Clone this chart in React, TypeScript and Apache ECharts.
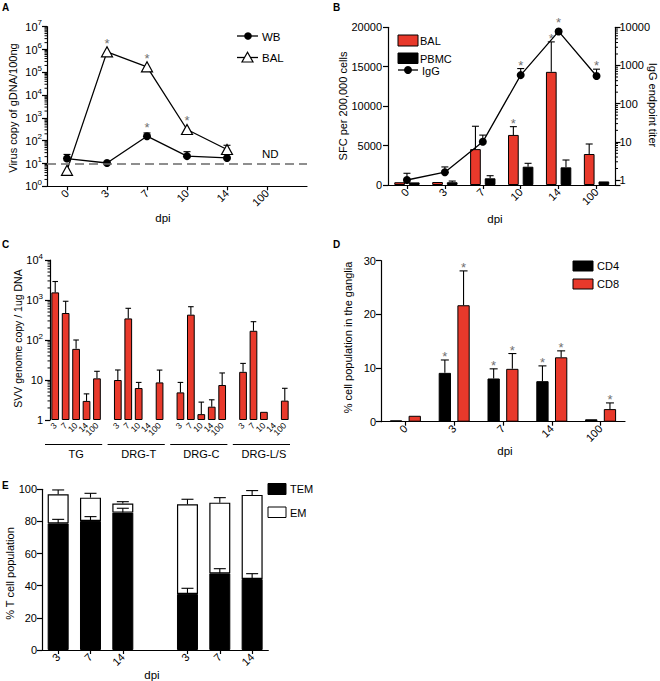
import React, { useEffect, useRef } from 'react';
import * as echarts from 'echarts';

const FONT = "'Liberation Sans', Arial, Helvetica, sans-serif";
const RED = '#E8392B';
const STAR_COLOR = '#707070';

// ---------- Panel A ----------
const dpiA = ['0', '3', '7', '10', '14', '100'];
const wbCopies = [16.5, 10.5, 158, 21, 17.5, null];
const wbErrTop = [25, null, 219, 33, null, null];
const wbSig = [0, 0, 1, 0, 0, 0];
const balCopies = [5, 790000, 174000, 310, 41, null];
const balErrTop = [null, null, null, null, 63, null];
const balSig = [0, 1, 1, 1, 0, 0];
const ndLevel = 10;

// ---------- Panel B ----------
const dpiB = ['0', '3', '7', '10', '14', '100'];
const sfcBal = [350, 380, 4550, 6350, 14350, 3930];
const sfcBalErrTop = [null, null, 7450, 7400, 18150, 5200];
const sfcBalSig = [0, 0, 0, 1, 1, 0];
const sfcPbmc = [330, 350, 850, 2320, 2240, 450];
const sfcPbmcErrTop = [null, 500, 1180, 2750, 3170, null];
const sfcPbmcSig = [0, 0, 0, 0, 0, 0];
const iggTiter = [1.0, 1.6, 10, 560, 7800, 530];
const iggErrTop = [1.5, 2.2, 15, 830, null, 800];
const iggSig = [0, 0, 0, 1, 1, 1];

// ---------- Panel C ----------
const tissuesC = ['TG', 'DRG-T', 'DRG-C', 'DRG-L/S'];
const dpiC = ['3', '7', '10', '14', '100'];
const svvTG = [1550, 473, 60, 3, 11];
const svvTGErrTop = [2900, 930, 100, 4.5, 16.5];
const svvDrgT = [10, 346, 6.3, null, 8.7];
const svvDrgTErrTop = [17.8, 620, 8.7, null, 17.7];
const svvDrgC = [4.9, 430, 1.4, 2.15, 7.5];
const svvDrgCErrTop = [8.7, 680, 2.8, 3.2, 15];
const svvDrgLS = [16, 170, 1.6, null, 3.05];
const svvDrgLSErrTop = [26, 287, null, null, 6.2];

// ---------- Panel D ----------
const dpiD = ['0', '3', '7', '14', '100'];
const cd4Pct = [0.25, 9.1, 8.05, 7.55, 0.45];
const cd4ErrTop = [null, 11.5, 9.85, 10.4, null];
const cd4Sig = [0, 1, 1, 1, 0];
const cd8Pct = [1.1, 21.7, 9.85, 12.0, 2.35];
const cd8ErrTop = [null, 28.1, 12.7, 13.2, 3.5];
const cd8Sig = [0, 1, 1, 1, 1];

// ---------- Panel E ----------
const dpiE = ['3', '7', '14', '', '3', '7', '14'];
const temPct = [78.8, 80.3, 85.5, null, 34.9, 47.7, 44.2];
const temErrTop = [81.3, 83, 88.2, null, 38.4, 50.6, 47.5];
const emPct = [18.1, 14.5, 5.6, null, 55.8, 44.0, 52.3];
const totalErrTop = [99.6, 97.5, 92.3, null, 93.8, 94.8, 99.2];

// ---------- helpers ----------
const BLACK = '#000';
const axisLine = { show: true, lineStyle: { color: BLACK, width: 1.2 } };
const tick = (len = 4) => ({ show: true, length: len, lineStyle: { color: BLACK, width: 1.2 } });
const lbl = { color: BLACK, fontSize: 11, fontFamily: FONT };
const noSplit = { show: false };

function isPow10(v: number) {
  const l = Math.log10(v);
  return Math.abs(l - Math.round(l)) < 1e-6;
}
function supLabelAll(v: number) {
  if (!isPow10(v)) return '';
  return `10{e|${Math.round(Math.log10(v))}}`;
}
function supLabelC(v: number) {
  if (!isPow10(v)) return '';
  const e = Math.round(Math.log10(v));
  if (e === 0) return '1';
  if (e === 1) return '10';
  return `10{e|${e}}`;
}
const supRich = { e: { fontSize: 8, lineHeight: 8, verticalAlign: 'top', fontFamily: FONT, color: BLACK } };

function ln(x1: number, y1: number, x2: number, y2: number, w = 1.1) {
  return { type: 'line', shape: { x1, y1, x2, y2 }, style: { stroke: BLACK, lineWidth: w } };
}

function rows(xs: number[], vals: (number | null)[], errs: (number | null)[], sigs: number[]) {
  return vals.map((v, i) => [xs[i], v == null ? '-' : v, errs[i] == null ? (v == null ? '-' : v) : errs[i], sigs[i] || 0]);
}

function errorSeries(xAxisIndex: number, yAxisIndex: number, data: any[], dx: number, cap: number, gapErr: number, gapVal: number, z = 5) {
  return {
    type: 'custom', xAxisIndex, yAxisIndex, z, silent: true, clip: false,
    data,
    renderItem: (params: any, api: any) => {
      const x = api.value(0), v = api.value(1), e = api.value(2), s = api.value(3);
      if (isNaN(v)) return null;
      const p = api.coord([x, v]);
      const cx = p[0] + dx;
      const children: any[] = [];
      let starY = p[1] - gapVal;
      if (!isNaN(e) && e > v) {
        const q = api.coord([x, e]);
        children.push(ln(cx, p[1], cx, q[1]), ln(cx - cap, q[1], cx + cap, q[1]));
        starY = Math.min(starY, q[1] - gapErr);
      }
      if (s) {
        children.push({ type: 'text', x: cx, y: starY, style: { text: '*', fill: STAR_COLOR, fontSize: 13, fontFamily: FONT, align: 'center', verticalAlign: 'middle' } });
      }
      return { type: 'group', children };
    },
  };
}

function minorTicks(xAxisIndex: number, yAxisIndex: number, side: 'left' | 'right', e0: number, e1: number) {
  const data: any[] = [];
  for (let e = e0; e < e1; e++) for (let m = 2; m <= 9; m++) data.push([0, m * Math.pow(10, e)]);
  return {
    type: 'custom', xAxisIndex, yAxisIndex, z: 6, silent: true, clip: false, data,
    renderItem: (params: any, api: any) => {
      const cs = params.coordSys;
      const y = api.coord([api.value(0), api.value(1)])[1];
      const x0 = side === 'left' ? cs.x : cs.x + cs.width;
      const x1 = side === 'left' ? x0 - 2.5 : x0 + 2.5;
      return ln(x0, y, x1, y, 1);
    },
  };
}

function text(x: number, y: number, t: string, o: any = {}, rotation = 0) {
  const { fontSize = 11, align = 'left', fontWeight = 'normal', fill = BLACK } = o;
  return { type: 'text', x, y, rotation, silent: true, style: { text: t, fontSize, fontFamily: FONT, fill, align, verticalAlign: 'middle', fontWeight } };
}
function rect(x: number, y: number, w: number, h: number, fill: string) {
  return { type: 'rect', shape: { x, y, width: w, height: h }, style: { fill, stroke: BLACK, lineWidth: 1 } };
}

function buildOption() {
  // Panel A slots (half-step category axis)
  const slotLabelA = Array.from({ length: 14 }, (_, i) => (i % 2 === 1 && (i - 1) / 2 < dpiA.length ? dpiA[(i - 1) / 2] : ''));
  const slotNamesA = slotLabelA.map((_, i) => `a${i}`);
  const isDpiSlotA = (i: number) => slotLabelA[i] !== '';
  const xsA = dpiA.map((_, i) => 2 * i + 1);

  // Panel C slots
  const slotLabelC: string[] = [];
  const valsC: (number | null)[] = [];
  const errsC: (number | null)[] = [];
  const groupSpan: number[][] = [];
  const meansC = [svvTG, svvDrgT, svvDrgC, svvDrgLS];
  const errC = [svvTGErrTop, svvDrgTErrTop, svvDrgCErrTop, svvDrgLSErrTop];
  tissuesC.forEach((_, g) => {
    if (g > 0) { slotLabelC.push(''); valsC.push(null); errsC.push(null); }
    const start = slotLabelC.length;
    dpiC.forEach((d, k) => { slotLabelC.push(d); valsC.push(meansC[g][k]); errsC.push(errC[g][k]); });
    groupSpan.push([start, slotLabelC.length - 1]);
  });
  const slotNamesC = slotLabelC.map((_, i) => `c${i}`);
  const xsC = slotLabelC.map((_, i) => i);

  const slotNamesE = dpiE.map((_, i) => `e${i}`);
  const xsE = dpiE.map((_, i) => i);
  const totalE = temPct.map((t, i) => (t == null || emPct[i] == null ? null : +(t + (emPct[i] as number)).toFixed(2)));

  const xsB = dpiB.map((_, i) => i);
  const xsD = dpiD.map((_, i) => i);

  const grids = [
    { left: 47, top: 26.7, width: 260, height: 159.6 },
    { left: 388, top: 27.3, width: 227.5, height: 157.7 },
    { left: 50, top: 260, width: 240, height: 160 },
    { left: 381, top: 260.7, width: 244, height: 161 },
    { left: 42, top: 489.3, width: 226.3, height: 160.7 },
  ].map((g) => ({ ...g, containLabel: false, outerBoundsMode: 'none' }));

  const pad = [7, 0, 0, 0];

  const xAxis: any[] = [
    {
      gridIndex: 0, type: 'category', boundaryGap: false, data: slotNamesA,
      axisLine, axisTick: { ...tick(4), interval: (i: number) => isDpiSlotA(i) },
      axisLabel: { color: BLACK, fontSize: 11, fontFamily: FONT, rotate: 45, margin: 5, padding: pad, interval: (i: number) => isDpiSlotA(i), formatter: (_v: string, i: number) => slotLabelA[i] },
    },
    {
      gridIndex: 1, type: 'category', data: dpiB, axisLine,
      axisTick: { ...tick(4), alignWithLabel: true },
      axisLabel: { color: BLACK, fontSize: 11, fontFamily: FONT, rotate: 45, margin: 5, padding: pad, interval: 0 },
    },
    {
      gridIndex: 2, type: 'category', data: slotNamesC, axisLine: { show: false }, axisTick: { show: false },
      axisLabel: { color: BLACK, fontSize: 8.5, fontFamily: FONT, rotate: 45, margin: 4, interval: 0, formatter: (_v: string, i: number) => slotLabelC[i] },
    },
    {
      gridIndex: 3, type: 'category', data: dpiD, axisLine,
      axisTick: { ...tick(4), alignWithLabel: true },
      axisLabel: { color: BLACK, fontSize: 11, fontFamily: FONT, rotate: 45, margin: 5, padding: pad, interval: 0 },
    },
    {
      gridIndex: 4, type: 'category', data: slotNamesE, axisLine,
      axisTick: { ...tick(4), alignWithLabel: true, interval: (i: number) => dpiE[i] !== '' },
      axisLabel: { color: BLACK, fontSize: 11, fontFamily: FONT, rotate: 45, margin: 5, padding: pad, interval: 0, formatter: (_v: string, i: number) => dpiE[i] },
    },
  ];

  const plain = (v: number) => String(v);

  const yAxis: any[] = [
    {
      gridIndex: 0, type: 'log', logBase: 10, min: 1, max: 1e7, axisLine, axisTick: tick(5), splitLine: noSplit,
      axisLabel: { ...lbl, margin: 5, lineHeight: 16, formatter: supLabelAll, rich: supRich },
    },
    {
      gridIndex: 1, type: 'value', position: 'left', min: 0, max: 20000, interval: 5000, axisLine, axisTick: tick(5), splitLine: noSplit,
      axisLabel: { ...lbl, margin: 6, formatter: plain },
    },
    {
      gridIndex: 1, type: 'log', logBase: 10, position: 'right', min: 0.74, max: 10000, axisLine, axisTick: tick(5), splitLine: noSplit,
      axisLabel: { ...lbl, margin: 4, formatter: (v: number) => (isPow10(v) ? String(Math.round(v)) : '') },
    },
    {
      gridIndex: 2, type: 'log', logBase: 10, min: 1, max: 1e4, axisLine, axisTick: tick(5), splitLine: noSplit,
      axisLabel: { ...lbl, margin: 7, lineHeight: 16, formatter: supLabelC, rich: supRich },
    },
    {
      gridIndex: 3, type: 'value', min: 0, max: 30, interval: 10, axisLine, axisTick: tick(5), splitLine: noSplit,
      axisLabel: { ...lbl, margin: 5, formatter: plain },
    },
    {
      gridIndex: 4, type: 'value', min: 0, max: 100, interval: 20, axisLine, axisTick: tick(5), splitLine: noSplit,
      axisLabel: { ...lbl, margin: 5, formatter: plain },
    },
  ];

  const barBorder = { borderColor: BLACK, borderWidth: 1 };

  const series: any[] = [
    // ----- A -----
    {
      name: 'WB', type: 'line', xAxisIndex: 0, yAxisIndex: 0, z: 4,
      data: wbCopies.map((v, i) => [xsA[i], v]),
      symbol: 'circle', symbolSize: 8, itemStyle: { color: BLACK }, lineStyle: { color: BLACK, width: 1.3 },
      markLine: {
        silent: true, symbol: 'none', label: { show: false },
        lineStyle: { color: '#6a6a6a', type: [9, 5], width: 1.5 },
        data: [{ yAxis: ndLevel }],
      },
    },
    {
      name: 'BAL', type: 'line', xAxisIndex: 0, yAxisIndex: 0, z: 4,
      data: balCopies.map((v, i) => [xsA[i], v]),
      symbol: 'triangle', symbolSize: [11, 10], itemStyle: { color: '#fff', borderColor: BLACK, borderWidth: 1.2 },
      lineStyle: { color: BLACK, width: 1.3 },
    },
    errorSeries(0, 0, rows(xsA, wbCopies, wbErrTop, wbSig), 0, 3.5, 5.3, 8.5, 3),
    errorSeries(0, 0, rows(xsA, balCopies, balErrTop, balSig), 0, 3.5, 5.3, 8.5, 3),
    minorTicks(0, 0, 'left', 0, 7),

    // ----- B -----
    {
      name: 'BAL SFC', type: 'bar', xAxisIndex: 1, yAxisIndex: 1, data: sfcBal, barWidth: 10.7, barGap: '37%',
      itemStyle: { color: RED, ...barBorder }, z: 2,
    },
    {
      name: 'PBMC', type: 'bar', xAxisIndex: 1, yAxisIndex: 1, data: sfcPbmc, barWidth: 10.7, barGap: '37%',
      itemStyle: { color: BLACK, ...barBorder }, z: 2,
    },
    errorSeries(1, 1, rows(xsB, sfcBal, sfcBalErrTop, sfcBalSig), -7.35, 3.5, 3.3, 3.3),
    errorSeries(1, 1, rows(xsB, sfcPbmc, sfcPbmcErrTop, sfcPbmcSig), 7.35, 3.5, 3.3, 3.3),
    {
      name: 'IgG', type: 'line', xAxisIndex: 1, yAxisIndex: 2, data: iggTiter, z: 7,
      symbol: 'circle', symbolSize: 8, itemStyle: { color: BLACK }, lineStyle: { color: BLACK, width: 1.3 },
    },
    errorSeries(1, 2, rows(xsB, iggTiter, iggErrTop, iggSig), 0, 3.5, 3.3, 9.3, 6),
    minorTicks(1, 2, 'right', 0, 4),

    // ----- C -----
    {
      name: 'SVV', type: 'bar', xAxisIndex: 2, yAxisIndex: 3, data: valsC, barWidth: '74%',
      itemStyle: { color: RED, ...barBorder }, z: 2,
    },
    errorSeries(2, 3, rows(xsC, valsC, errsC, xsC.map(() => 0)), 0, 2.8, 3, 3),
    minorTicks(2, 3, 'left', 0, 4),
    {
      type: 'custom', xAxisIndex: 2, yAxisIndex: 3, z: 6, silent: true, clip: false,
      data: groupSpan.map((s, g) => [s[0], 1, s[1], g]),
      renderItem: (params: any, api: any) => {
        const s = api.value(0), e = api.value(2), g = api.value(3);
        const cs = params.coordSys;
        const yb = cs.y + cs.height;
        const c0 = api.coord([s, 1])[0];
        const c1 = api.coord([e, 1])[0];
        const bw = api.coord([s + 1, 1])[0] - c0;
        const xa = c0 - bw / 2 - 5;
        const xb = c1 + bw / 2;
        return {
          type: 'group', children: [
            ln(xa, yb + 24.5, xb, yb + 24.5, 1.1),
            { type: 'text', x: (c0 + c1) / 2, y: yb + 34, style: { text: tissuesC[g], fontSize: 11, fontFamily: FONT, fill: BLACK, align: 'center', verticalAlign: 'middle' } },
          ],
        };
      },
    },

    // ----- D -----
    {
      name: 'CD4', type: 'bar', xAxisIndex: 3, yAxisIndex: 4, data: cd4Pct, barWidth: 12.3, barGap: '52%',
      itemStyle: { color: BLACK, ...barBorder }, z: 2,
    },
    {
      name: 'CD8', type: 'bar', xAxisIndex: 3, yAxisIndex: 4, data: cd8Pct, barWidth: 12.3, barGap: '52%',
      itemStyle: { color: RED, ...barBorder }, z: 2,
    },
    errorSeries(3, 4, rows(xsD, cd4Pct, cd4ErrTop, cd4Sig), -9.35, 4, 3, 3),
    errorSeries(3, 4, rows(xsD, cd8Pct, cd8ErrTop, cd8Sig), 9.35, 4, 3, 3),

    // ----- E -----
    {
      name: 'TEM', type: 'bar', xAxisIndex: 4, yAxisIndex: 5, stack: 'e', data: temPct, barWidth: 21,
      itemStyle: { color: BLACK, ...barBorder }, z: 2,
    },
    {
      name: 'EM', type: 'bar', xAxisIndex: 4, yAxisIndex: 5, stack: 'e', data: emPct, barWidth: 21,
      itemStyle: { color: '#fff', borderColor: BLACK, borderWidth: 1.2 }, z: 2,
    },
    errorSeries(4, 5, rows(xsE, temPct, temErrTop, xsE.map(() => 0)), 0, 6, 3, 3),
    errorSeries(4, 5, rows(xsE, totalE, totalErrTop, xsE.map(() => 0)), 0, 6, 3, 3),
  ];

  const graphic: any[] = [
    // panel letters
    text(2, 7, 'A', { fontWeight: 'bold', fontSize: 10 }),
    text(333, 7, 'B', { fontWeight: 'bold', fontSize: 10 }),
    text(2, 244, 'C', { fontWeight: 'bold', fontSize: 10 }),
    text(333, 244, 'D', { fontWeight: 'bold', fontSize: 10 }),
    text(2, 485, 'E', { fontWeight: 'bold', fontSize: 10 }),
    // axis titles
    text(12.5, 108, 'Virus copy of gDNA/100ng', { align: 'center' }, Math.PI / 2),
    text(343.3, 106, 'SFC per 200,000 cells', { align: 'center' }, Math.PI / 2),
    text(653, 105, 'IgG endpoint titer', { align: 'center' }, -Math.PI / 2),
    text(17.5, 338.5, 'SVV genome copy / 1ug DNA', { align: 'center', fontSize: 10.5 }, Math.PI / 2),
    text(348, 337.5, '% cell population in the ganglia', { align: 'center' }, Math.PI / 2),
    text(10, 573.5, '% T cell population', { align: 'center' }, Math.PI / 2),
    text(163, 218, 'dpi', { align: 'center', fontSize: 11.5 }),
    text(495, 219, 'dpi', { align: 'center', fontSize: 11.5 }),
    text(505, 451, 'dpi', { align: 'center', fontSize: 11.5 }),
    text(152, 675, 'dpi', { align: 'center', fontSize: 11.5 }),
    text(262, 154, 'ND', { fontSize: 11.5 }),
    // legend A
    ln(237, 36, 258, 36, 1.3),
    { type: 'circle', shape: { cx: 248, cy: 36, r: 3.8 }, style: { fill: BLACK } },
    text(262, 36.5, 'WB', { fontSize: 11.5 }),
    ln(237, 57.5, 258, 57.5, 1.3),
    { type: 'polygon', shape: { points: [[247.5, 52.3], [242, 62], [253, 62]] }, style: { fill: '#fff', stroke: BLACK, lineWidth: 1.2 } },
    text(262, 57.5, 'BAL', { fontSize: 11.5 }),
    // legend B
    rect(398, 35, 20, 11, RED),
    text(420, 41, 'BAL', { fontSize: 11 }),
    rect(398, 53, 20, 10.5, BLACK),
    text(420, 58.5, 'PBMC', { fontSize: 11 }),
    ln(398, 70, 418, 70, 1.3),
    { type: 'circle', shape: { cx: 408, cy: 70, r: 4 }, style: { fill: BLACK } },
    text(422, 71, 'IgG', { fontSize: 11 }),
    // legend D
    rect(573, 261, 20, 10, BLACK),
    text(597, 266, 'CD4', { fontSize: 11 }),
    rect(573, 279, 20, 10, RED),
    text(597, 284, 'CD8', { fontSize: 11 }),
    // legend E
    rect(268, 483.5, 18, 11, BLACK),
    text(290, 489, 'TEM', { fontSize: 11 }),
    rect(268, 507, 18, 10.5, '#fff'),
    text(290, 512.5, 'EM', { fontSize: 11 }),
  ];

  return {
    animation: false,
    backgroundColor: '#fff',
    textStyle: { fontFamily: FONT },
    grid: grids,
    xAxis,
    yAxis,
    series,
    graphic,
  };
}

export default function App() {
  const ref = useRef<HTMLDivElement>(null);
  useEffect(() => {
    if (!ref.current) return;
    const chart = echarts.init(ref.current, null, { renderer: 'svg' });
    chart.setOption(buildOption() as any);
    return () => chart.dispose();
  }, []);
  return <div ref={ref} style={{ position: 'absolute', left: 0, top: 0, width: 660, height: 681, background: '#fff' }} />;
}
